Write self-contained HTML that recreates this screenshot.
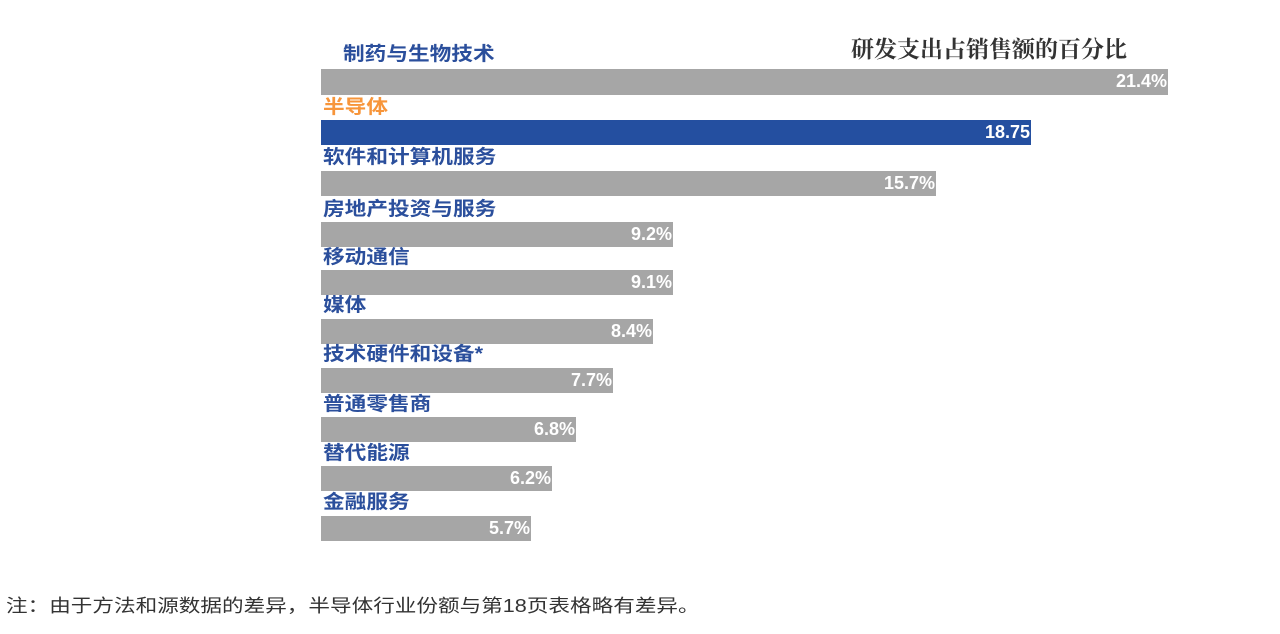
<!DOCTYPE html>
<html><head><meta charset="utf-8"><style>
body{margin:0;width:1280px;height:634px;background:#fff;position:relative;overflow:hidden;font-family:"Liberation Sans","Noto Sans CJK SC",sans-serif;}
.b{position:absolute;left:321px;height:25px;background:#a6a6a6;}
.b span{position:absolute;right:1px;top:2px;color:#fff;font-weight:bold;font-size:18px;line-height:21px;}
.l{position:absolute;left:323px;color:#2b4f9c;font-weight:bold;font-size:19px;line-height:20px;white-space:nowrap;transform:scaleX(1.14);transform-origin:0 0;}
</style></head><body>
<div style="position:absolute;left:851px;top:31px;font-size:23px;font-weight:bold;color:#333;font-family:'Liberation Serif','Noto Serif CJK SC',serif;">研发支出占销售额的百分比</div>
<div class="l" style="left:343px;top:45px">制药与生物技术</div>
<div class="b" style="top:69px;width:847px;height:26px"><span>21.4%</span></div>
<div class="l" style="top:98px;color:#f7953a">半导体</div>
<div class="b" style="top:120px;width:710px;background:#244fa0"><span>18.75</span></div>
<div class="l" style="top:148px">软件和计算机服务</div>
<div class="b" style="top:171px;width:615px"><span>15.7%</span></div>
<div class="l" style="top:200px">房地产投资与服务</div>
<div class="b" style="top:222px;width:352px"><span>9.2%</span></div>
<div class="l" style="top:248px">移动通信</div>
<div class="b" style="top:270px;width:352px"><span>9.1%</span></div>
<div class="l" style="top:296px">媒体</div>
<div class="b" style="top:319px;width:332px"><span>8.4%</span></div>
<div class="l" style="top:345px">技术硬件和设备*</div>
<div class="b" style="top:368px;width:292px"><span>7.7%</span></div>
<div class="l" style="top:395px">普通零售商</div>
<div class="b" style="top:417px;width:255px"><span>6.8%</span></div>
<div class="l" style="top:444px">替代能源</div>
<div class="b" style="top:466px;width:231px"><span>6.2%</span></div>
<div class="l" style="top:493px">金融服务</div>
<div class="b" style="top:516px;width:210px"><span>5.7%</span></div>
<div style="position:absolute;left:6px;top:592px;font-size:18px;color:#333;white-space:nowrap;transform:scaleX(1.2);transform-origin:0 0;">注：由于方法和源数据的差异，半导体行业份额与第18页表格略有差异。</div>
</body></html>
